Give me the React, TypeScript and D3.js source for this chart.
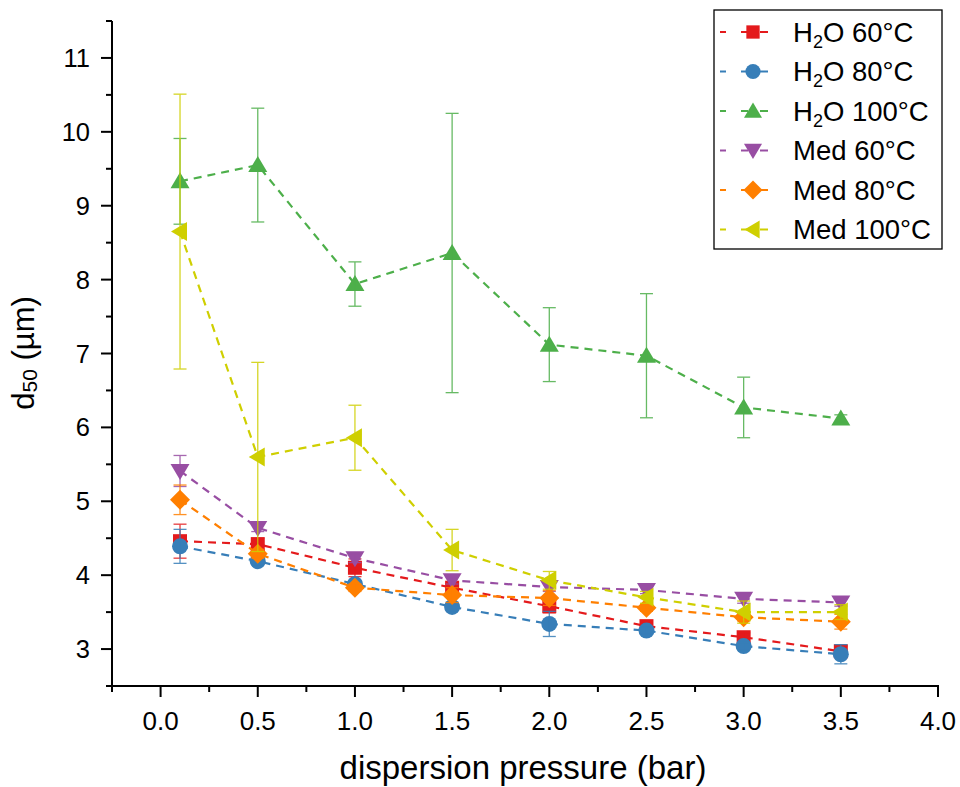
import React from "react";
import * as d3 from "d3";

const pressures = [0.1, 0.5, 1.0, 1.5, 2.0, 2.5, 3.0, 3.5];
const seriesNames = ["H2O 60°C", "H2O 80°C", "H2O 100°C", "Med 60°C", "Med 80°C", "Med 100°C"];
const h2o60 = [4.46, 4.42, 4.10, 3.83, 3.58, 3.31, 3.16, 2.97];
const h2o60Err = [0.23, 0.08, 0.12, 0.06, 0.09, 0.04, 0.06, 0.07];
const h2o80 = [4.39, 4.19, 3.88, 3.57, 3.34, 3.25, 3.04, 2.93];
const h2o80Err = [0.23, 0.05, 0.05, 0.05, 0.17, 0.05, 0.05, 0.13];
const h2o100 = [9.33, 9.55, 7.94, 8.36, 7.12, 6.97, 6.27, 6.12];
const h2o100Err = [0.58, 0.77, 0.30, 1.89, 0.50, 0.84, 0.41, 0.05];
const med60 = [5.41, 4.64, 4.23, 3.93, 3.84, 3.80, 3.68, 3.63];
const med60Err = [0.21, 0.05, 0.06, 0.05, 0.06, 0.05, 0.06, 0.05];
const med80 = [5.02, 4.29, 3.83, 3.73, 3.69, 3.56, 3.43, 3.37];
const med80Err = [0.20, 0.06, 0.05, 0.10, 0.10, 0.05, 0.05, 0.10];
const med100 = [8.65, 5.60, 5.86, 4.34, 3.93, 3.70, 3.50, 3.50];
const med100Err = [1.86, 1.28, 0.44, 0.28, 0.12, 0.08, 0.15, 0.10];
const xTicks = [0, 0.5, 1.0, 1.5, 2.0, 2.5, 3.0, 3.5, 4.0];
const yTicks = [3, 4, 5, 6, 7, 8, 9, 10, 11];

const colors = ["#e41a1c", "#377eb8", "#4daf4a", "#984ea3", "#ff7f00", "#cfcf00"];
const shapes = ["square", "circle", "up", "down", "diamond", "left"];
const values = [h2o60, h2o80, h2o100, med60, med80, med100];
const errors = [h2o60Err, h2o80Err, h2o100Err, med60Err, med80Err, med100Err];

const W = 960, H = 787;
const left = 112, right = 938, top = 21, bottom = 686;
const x = d3.scaleLinear().domain([-0.25, 4.0]).range([left, right]);
const y = d3.scaleLinear().domain([2.5, 11.5]).range([bottom, top]);

function markerPath(shape: string): string {
  switch (shape) {
    case "square": return "M-7,-7H7V7H-7Z";
    case "circle": return "M8,0A8,8 0 1,1 -8,0A8,8 0 1,1 8,0Z";
    case "up": return "M0,-9L9.5,7L-9.5,7Z";
    case "down": return "M0,9L9.5,-7L-9.5,-7Z";
    case "diamond": return "M0,-10L10,0L0,10L-10,0Z";
    case "left": return "M-9,0L7,-9.5L7,9.5Z";
  }
  return "";
}

function Label({ name }: { name: string }) {
  if (name.startsWith("H2O")) {
    return (
      <>
        H<tspan fontSize={18} dy={6}>2</tspan><tspan dy={-6}>O{name.slice(3)}</tspan>
      </>
    );
  }
  return <>{name}</>;
}

export default function App() {
  const line = d3.line<number>().x((_, i) => x(pressures[i])).y((v) => y(v));
  const font = "'Liberation Sans', Arial, sans-serif";
  const xMinor = d3.range(-0.25, 4.01, 0.25);
  const yMinor = d3.range(2.5, 11.51, 0.5);
  const legendX = 714, legendY = 10, rowH = 39.5;
  return (
    <svg width={W} height={H} style={{ position: "absolute", left: 0, top: 0, background: "#fff" }}>
      {values.map((vals, s) => (
        <g key={s}>
          <path d={line(vals) || ""} fill="none" stroke={colors[s]} strokeWidth={2.2} strokeDasharray="8,6" />
          {vals.map((v, i) => {
            const cx = x(pressures[i]);
            const e = errors[s][i];
            return (
              <g key={i}>
                <path d={markerPath(shapes[s])} transform={`translate(${cx},${y(v)})`} fill={colors[s]} />
                <g stroke={colors[s]} strokeWidth={1.3} opacity={0.85}>
                  <line x1={cx} x2={cx} y1={y(v + e)} y2={y(v - e)} />
                  <line x1={cx - 6.5} x2={cx + 6.5} y1={y(v + e)} y2={y(v + e)} />
                  <line x1={cx - 6.5} x2={cx + 6.5} y1={y(v - e)} y2={y(v - e)} />
                </g>
              </g>
            );
          })}
        </g>
      ))}
      {/* axes */}
      <g stroke="#000" strokeWidth={2}>
        <line x1={left} x2={right + 1} y1={bottom} y2={bottom} />
        <line x1={left} x2={left} y1={top} y2={bottom + 1} />
        {xMinor.map((t, i) => (
          <line key={"xm" + i} x1={x(t)} x2={x(t)} y1={bottom} y2={bottom + (Math.abs(t * 2 - Math.round(t * 2)) < 1e-6 ? 11 : 6)} />
        ))}
        {yMinor.map((t, i) => (
          <line key={"ym" + i} x1={left} x2={left - (Math.abs(t - Math.round(t)) < 1e-6 ? 11 : 6)} y1={y(t)} y2={y(t)} />
        ))}
      </g>
      {xTicks.map((t) => (
        <text key={"xt" + t} x={x(t)} y={730} textAnchor="middle" fontFamily={font} fontSize={26} fill="#000">
          {t.toFixed(1)}
        </text>
      ))}
      {yTicks.map((t) => (
        <text key={"yt" + t} x={90} y={y(t) + 9} textAnchor="end" fontFamily={font} fontSize={25.5} fill="#000">
          {t}
        </text>
      ))}
      <text x={523} y={779} textAnchor="middle" fontFamily={font} fontSize={33} fill="#000">
        dispersion pressure (bar)
      </text>
      <text transform={`translate(34,353) rotate(-90)`} textAnchor="middle" fontFamily={font} fontSize={31} fill="#000">
        d<tspan fontSize={21} dy={3}>50</tspan><tspan dy={-3}> (µm)</tspan>
      </text>
      {/* legend */}
      <rect x={legendX} y={legendY} width={228} height={239} fill="#fff" stroke="#000" strokeWidth={1.3} />
      {seriesNames.map((n, s) => {
        const cy = legendY + 22 + s * rowH;
        return (
          <g key={"lg" + s}>
            <g stroke={colors[s]} strokeWidth={2}>
              <line x1={720} x2={726} y1={cy} y2={cy} />
              <line x1={741} x2={748} y1={cy} y2={cy} />
              <line x1={760} x2={768} y1={cy} y2={cy} />
            </g>
            <path d={markerPath(shapes[s])} transform={`translate(753,${cy}) scale(0.95)`} fill={colors[s]} />
            <text x={793} y={cy + 9.5} fontFamily={font} fontSize={27.5} fill="#000">
              <Label name={n} />
            </text>
          </g>
        );
      })}
    </svg>
  );
}
